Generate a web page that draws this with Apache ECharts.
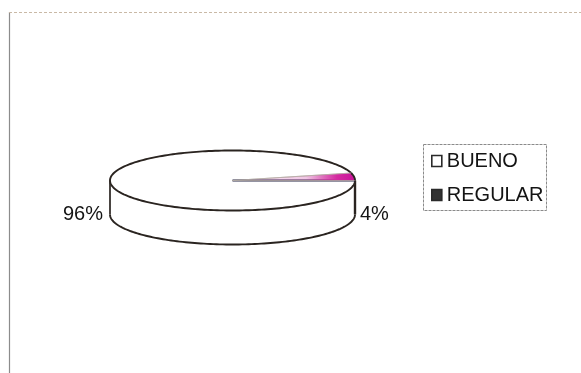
<!DOCTYPE html>
<html><head><meta charset="utf-8">
<script src="https://cdn.jsdelivr.net/npm/echarts@6/dist/echarts.min.js"></script>
<style>html,body{margin:0;padding:0;background:#fff}#c{width:581px;height:373px}</style>
</head><body><div id="c"></div>
<script>
// ---- data ----
const categories = ['BUENO', 'REGULAR'];
const values = [96, 4];
const labelTexts = ['96%', '4%'];

// ---- styles ----
const legendFill = ['#ffffff', '#333333'];
const INK = '#2a2420';
const FONT = '20px "Liberation Sans", Arial, sans-serif';

// ---- geometry of the 3D pie ----
const CX = 232.5, CY = 180.5, RX = 122.5, RY = 30, DEPTH = 34;
const total = values.reduce((a, b) => a + b, 0);

function pt(t, dy) { return [CX + RX * Math.cos(t), CY + RY * Math.sin(t) + (dy || 0)]; }
function arc(a0, a1, dy) {
  const n = Math.max(2, Math.ceil(Math.abs(a1 - a0) / (Math.PI / 120)));
  const out = [];
  for (let i = 0; i <= n; i++) out.push(pt(a0 + (a1 - a0) * i / n, dy));
  return out;
}

function renderItem(params, api) {
  const idx = params.seriesIndex;
  let start = 0;
  for (let i = 0; i < idx; i++) start += values[i] / total * 2 * Math.PI;
  const v = api.value(0);
  const end = start + v / total * 2 * Math.PI;
  const children = [];
  // front wall
  const w0 = Math.max(start, 0), w1 = Math.min(end, Math.PI);
  if (w1 > w0) {
    const top = arc(w0, w1, 0), bot = arc(w1, w0, DEPTH);
    children.push({ type: 'polygon', shape: { points: top.concat(bot) }, style: { fill: '#fff', stroke: null } });
    children.push({ type: 'polyline', shape: { points: bot }, style: { stroke: INK, lineWidth: 1.9, fill: null } });
    const e0 = pt(w0, 0), e1 = pt(w1, 0);
    children.push({ type: 'line', shape: { x1: e0[0], y1: e0[1], x2: e0[0], y2: e0[1] + DEPTH }, style: { stroke: INK, lineWidth: 2.4 } });
    children.push({ type: 'line', shape: { x1: e1[0], y1: e1[1], x2: e1[0], y2: e1[1] + DEPTH }, style: { stroke: INK, lineWidth: 1.7 } });
  }
  // top face
  const rim = arc(start, end, 0);
  let fill = '#ffffff';
  if (idx === 1) {
    fill = new echarts.graphic.LinearGradient(0, 0, 1, 0, [
      { offset: 0, color: 'rgba(200,30,150,0.05)' },
      { offset: 0.6, color: 'rgba(200,30,150,0.25)' },
      { offset: 0.85, color: '#d42aa0' },
      { offset: 1, color: '#c8149a' }
    ]);
  }
  children.push({ type: 'polygon', shape: { points: [[CX, CY]].concat(rim) }, style: { fill: fill, stroke: '#b8b0a8', lineWidth: 0.8 } });
  children.push({ type: 'polyline', shape: { points: rim }, style: { stroke: INK, lineWidth: 1.9, fill: null } });
  if (start === 0) {
    const p = pt(0, 0);
    children.push({ type: 'line', shape: { x1: CX, y1: CY, x2: p[0], y2: p[1] }, style: { stroke: '#2a2a48', lineWidth: 2 } });
  }
  // label
  const mid = (start + end) / 2;
  const c = Math.cos(mid);
  children.push({
    type: 'text',
    style: {
      text: labelTexts[idx],
      x: c < 0 ? CX - RX - 7 : CX + RX + 5,
      y: CY + DEPTH,
      align: c < 0 ? 'right' : 'left',
      verticalAlign: 'middle',
      font: FONT,
      fill: '#141414'
    }
  });
  return { type: 'group', children: children };
}

const chart = echarts.init(document.getElementById('c'), null, { renderer: 'canvas' });
chart.setOption({
  animation: false,
  backgroundColor: '#fff',
  legend: {
    orient: 'vertical',
    left: 431, top: 151,
    icon: 'rect',
    itemWidth: 10, itemHeight: 11,
    itemGap: 14,
    itemTextGap: 5,
    padding: 0,
    textStyle: { fontSize: 20, fontFamily: 'Liberation Sans', color: '#141414', lineHeight: 20 },
    data: categories.map((n, i) => ({
      name: n,
      itemStyle: { color: legendFill[i], borderColor: '#2a2a2a', borderWidth: 1.6 }
    }))
  },
  graphic: [
    { type: 'line', shape: { x1: 9.5, y1: 12, x2: 9.5, y2: 373 }, style: { stroke: '#8c8c8c', lineWidth: 1.2 } },
    { type: 'line', shape: { x1: 9, y1: 12.5, x2: 581, y2: 12.5 }, style: { stroke: '#c9b9a6', lineWidth: 1, lineDash: [3, 2] } },
    { type: 'rect', shape: { x: 423.5, y: 144.5, width: 123, height: 66 }, style: { fill: null, stroke: '#8a8a8a', lineWidth: 1, lineDash: [3, 1] } }
  ],
  series: categories.map((n, i) => ({
    type: 'custom',
    name: n,
    coordinateSystem: 'none',
    silent: true,
    itemStyle: { color: legendFill[i] },
    renderItem: renderItem,
    data: [[values[i]]]
  }))
});
</script>
</body></html>
